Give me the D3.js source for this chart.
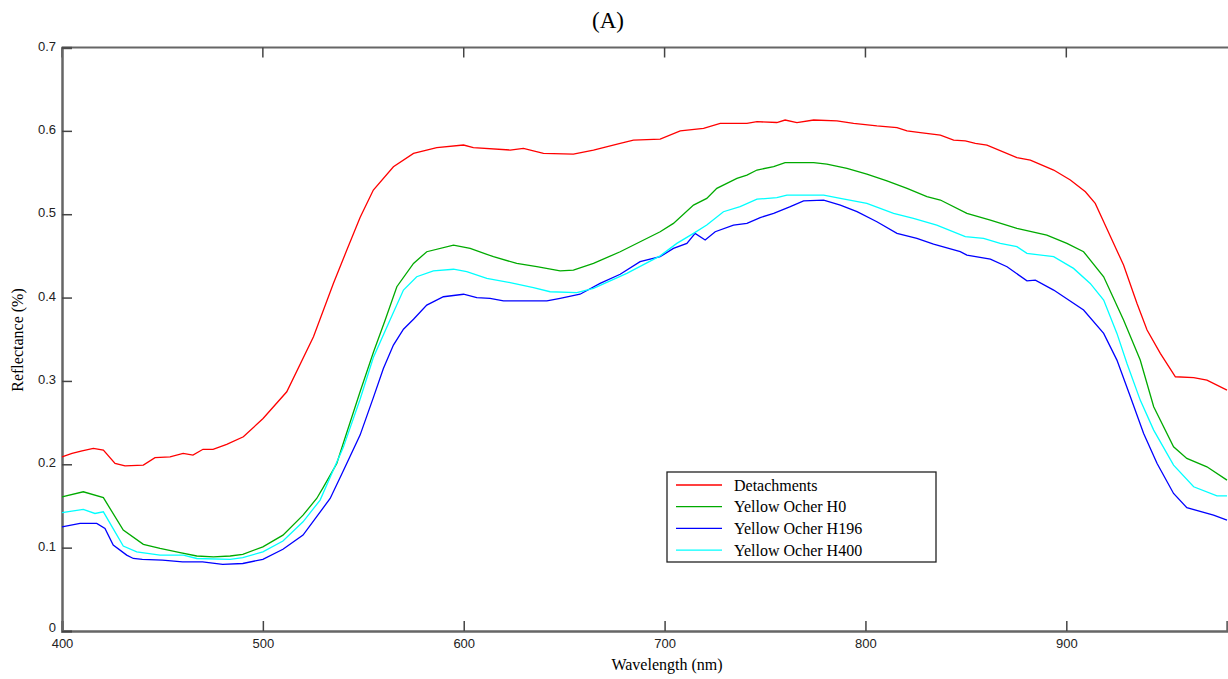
<!DOCTYPE html>
<html>
<head>
<meta charset="utf-8">
<script src="https://cdn.jsdelivr.net/npm/d3@7"></script>
<style>
  body { margin: 0; background: #fff; }
  svg { display: block; }
  .tick text { font-family: "Liberation Sans", Arial, sans-serif; font-size: 13px; fill: #222; }
  .serif { font-family: "Liberation Serif", "Times New Roman", serif; fill: #000; }
</style>
</head>
<body>
<div id="chart"></div>
<script>
// [wavelength nm, reflectance]
const detachments = [
    [400, 0.209], [405, 0.213], [410, 0.216], [415.6, 0.219], [420.6, 0.217], [426.4, 0.201],
    [431.4, 0.198], [440.5, 0.199], [446.3, 0.208], [453.8, 0.209], [460.3, 0.213], [465.2, 0.211],
    [470.2, 0.218], [475.2, 0.218], [482, 0.224], [490.3, 0.233], [500.1, 0.255], [511.9, 0.287],
    [525.2, 0.353], [535.1, 0.417], [541.8, 0.457], [548.4, 0.496], [555, 0.529], [565, 0.557],
    [575, 0.573], [586.6, 0.580], [599.9, 0.583], [604.8, 0.580], [623.1, 0.577], [629.7, 0.579],
    [639.7, 0.573], [654.6, 0.572], [664.6, 0.577], [677.9, 0.585], [684.5, 0.589], [697.8, 0.590],
    [707.8, 0.600], [719.4, 0.603], [727.7, 0.609], [741, 0.609], [746, 0.611], [755.9, 0.610],
    [760, 0.613], [765.9, 0.610], [774.2, 0.613], [785.8, 0.612], [794.1, 0.609], [805.7, 0.606],
    [815.7, 0.604], [820.7, 0.600], [827.3, 0.598], [837.3, 0.595], [843.9, 0.589], [849.7, 0.588],
    [854.7, 0.585], [860.5, 0.583], [875.4, 0.568], [882.1, 0.565], [893.7, 0.553], [902, 0.541],
    [909.5, 0.527], [914.4, 0.513], [918.6, 0.491], [928.5, 0.439], [935.2, 0.393], [940.2, 0.361],
    [946.8, 0.333], [954.3, 0.305], [963.4, 0.304], [970, 0.301], [980, 0.289]
];

const ocherH0 = [
    [400, 0.161], [410.6, 0.167], [420.6, 0.160], [430.5, 0.121], [440.5, 0.104], [448.8, 0.099],
    [458.8, 0.094], [467.1, 0.090], [475.4, 0.089], [483.7, 0.090], [490, 0.092], [500, 0.101],
    [510, 0.115], [520, 0.139], [526.8, 0.159], [530, 0.172], [536.8, 0.201], [540, 0.225],
    [548.4, 0.287], [555, 0.334], [560.9, 0.373], [566.7, 0.413], [575, 0.441], [581.6, 0.455],
    [594.9, 0.463], [603.2, 0.459], [614.8, 0.449], [626.4, 0.441], [636.4, 0.437], [648, 0.432],
    [654.6, 0.433], [664.6, 0.441], [677.9, 0.455], [697.8, 0.479], [704.4, 0.489], [714.4, 0.511],
    [721, 0.519], [726, 0.531], [736, 0.543], [741, 0.547], [746, 0.553], [754.3, 0.557],
    [760, 0.562], [767.5, 0.562], [774.2, 0.562], [780.8, 0.560], [790.8, 0.555], [800.7, 0.548],
    [810.7, 0.540], [820.7, 0.531], [830.6, 0.521], [837.3, 0.517], [850.5, 0.501], [862.2, 0.493],
    [875.4, 0.483], [890.3, 0.475], [900.3, 0.465], [908.6, 0.455], [918.6, 0.425], [928.5, 0.373],
    [936.8, 0.325], [943.5, 0.269], [953.4, 0.221], [960, 0.207], [970, 0.197], [980, 0.181]
];

const ocherH196 = [
    [400, 0.125], [409, 0.129], [417.3, 0.129], [421.4, 0.123], [425.5, 0.103], [432.2, 0.091],
    [435.5, 0.087], [440, 0.086], [450, 0.085], [460, 0.083], [470, 0.083], [480, 0.080],
    [490, 0.081], [500, 0.086], [510, 0.098], [520, 0.115], [533.5, 0.159], [540, 0.192],
    [548.4, 0.235], [555, 0.280], [560, 0.315], [565, 0.343], [570, 0.362], [575, 0.374],
    [581.6, 0.391], [589.9, 0.401], [599.9, 0.404], [606.5, 0.400], [613.1, 0.399], [619.8, 0.396],
    [641.4, 0.396], [648, 0.399], [657.9, 0.404], [667.9, 0.417], [677.9, 0.428], [687.8, 0.443],
    [697.8, 0.449], [704.4, 0.459], [711.1, 0.465], [715.2, 0.477], [720.2, 0.469], [725.2, 0.479],
    [734.3, 0.487], [741, 0.489], [747.6, 0.496], [754.3, 0.501], [762.6, 0.509], [769.2, 0.516],
    [779.2, 0.517], [787.5, 0.511], [795.8, 0.503], [805.7, 0.491], [815.7, 0.477], [825.6, 0.471],
    [833.9, 0.464], [847.2, 0.455], [850.5, 0.451], [862.2, 0.446], [870.5, 0.437], [880.4, 0.420],
    [884.6, 0.421], [893.7, 0.409], [908.6, 0.385], [918.6, 0.357], [925.2, 0.325], [931.9, 0.281],
    [938.5, 0.237], [945.2, 0.201], [953.4, 0.165], [960, 0.148], [973.3, 0.139], [980, 0.133]
];

const ocherH400 = [
    [400, 0.142], [410.6, 0.146], [416.4, 0.141], [420.6, 0.143], [430.5, 0.102], [437.2, 0.095],
    [448.8, 0.091], [460.4, 0.091], [467.1, 0.087], [483.7, 0.086], [490, 0.088], [500, 0.095],
    [510, 0.108], [520, 0.131], [528.5, 0.157], [540, 0.220], [548.4, 0.278], [555, 0.328],
    [563.3, 0.373], [570, 0.409], [576.6, 0.425], [584.9, 0.432], [594.9, 0.434], [601.5, 0.431],
    [611.5, 0.423], [623.1, 0.418], [634.7, 0.412], [643, 0.407], [656.3, 0.406], [664.6, 0.411],
    [681.2, 0.429], [697.8, 0.450], [706.1, 0.465], [714.4, 0.477], [721, 0.487], [729.3, 0.503],
    [737.6, 0.509], [746, 0.518], [755.9, 0.520], [760.9, 0.523], [769.2, 0.523], [779.2, 0.523],
    [787.5, 0.519], [800.7, 0.513], [814, 0.501], [823.9, 0.495], [835.5, 0.487], [849.7, 0.473],
    [858.8, 0.471], [867.1, 0.465], [875.4, 0.461], [880.4, 0.453], [893.7, 0.449], [903.6, 0.435],
    [911.9, 0.417], [918.6, 0.397], [925.2, 0.357], [930.2, 0.321], [936.8, 0.277], [943.5, 0.241],
    [953.4, 0.199], [963.4, 0.173], [975, 0.162], [980, 0.162]
];

const seriesNames = ['Detachments', 'Yellow Ocher H0', 'Yellow Ocher H196', 'Yellow Ocher H400'];
const seriesData = [detachments, ocherH0, ocherH196, ocherH400];
const seriesColors = ['#ff0000', '#00aa00', '#0000ff', '#00ffff'];

const xTicks = [400, 500, 600, 700, 800, 900];
const yTicks = [0, 0.1, 0.2, 0.3, 0.4, 0.5, 0.6, 0.7];

function createChart() {
    const width = 1228;
    const height = 679;
    const margin = { top: 47.5, right: 1, bottom: 48, left: 62 };

    const svg = d3.select('#chart')
        .append('svg')
        .attr('width', width)
        .attr('height', height);

    const xScale = d3.scaleLinear()
        .domain([400, 980])
        .range([margin.left, width - margin.right]);

    const yScale = d3.scaleLinear()
        .domain([0, 0.7])
        .range([height - margin.bottom, margin.top]);

    // box: top line and left / bottom axes
    svg.append('line')
        .attr('x1', margin.left).attr('x2', width)
        .attr('y1', margin.top).attr('y2', margin.top)
        .attr('stroke', '#666').attr('stroke-width', 2);

    // top mirrored ticks
    svg.append('g')
        .selectAll('line')
        .data(xTicks)
        .join('line')
        .attr('x1', (d) => xScale(d)).attr('x2', (d) => xScale(d))
        .attr('y1', margin.top).attr('y2', margin.top + 10)
        .attr('stroke', '#444').attr('stroke-width', 1.5);

    const xAxis = d3.axisBottom(xScale)
        .tickValues(xTicks)
        .tickSize(-10)
        .tickPadding(8)
        .tickFormat(d3.format('d'));

    const yAxis = d3.axisLeft(yScale)
        .tickValues(yTicks)
        .tickSize(-10)
        .tickPadding(6)
        .tickFormat((d) => d === 0 ? '0' : d.toFixed(1));

    const gx = svg.append('g')
        .attr('transform', `translate(0, ${yScale(0)})`)
        .call(xAxis);
    gx.select('.domain').attr('stroke', '#666').attr('stroke-width', 2.5);
    gx.selectAll('.tick line').attr('stroke', '#444').attr('stroke-width', 1.5);

    const gy = svg.append('g')
        .attr('transform', `translate(${margin.left}, 0)`)
        .call(yAxis);
    gy.select('.domain').attr('stroke', '#666').attr('stroke-width', 2.5);
    gy.selectAll('.tick line').attr('stroke', '#444').attr('stroke-width', 1.5);
    gy.selectAll('.tick text').attr('x', -6).attr('dy', '0.2em');
    gy.selectAll('.tick').filter((d) => d === 0).select('text').attr('dy', '0.05em');

    // lines
    const line = d3.line()
        .x((d) => xScale(d[0]))
        .y((d) => yScale(d[1]));

    svg.append('g')
        .selectAll('path')
        .data(seriesData)
        .join('path')
        .attr('d', line)
        .attr('fill', 'none')
        .attr('stroke', (d, i) => seriesColors[i])
        .attr('stroke-width', 1.3);

    // titles
    svg.append('text')
        .attr('class', 'serif')
        .attr('x', 608).attr('y', 28)
        .attr('text-anchor', 'middle')
        .style('font-size', '23px')
        .text('(A)');

    svg.append('text')
        .attr('class', 'serif')
        .attr('x', 667).attr('y', 670)
        .attr('text-anchor', 'middle')
        .style('font-size', '16px')
        .text('Wavelength  (nm)');

    svg.append('text')
        .attr('class', 'serif')
        .attr('transform', 'translate(23, 340) rotate(-90)')
        .attr('text-anchor', 'middle')
        .style('font-size', '16px')
        .text('Reflectance  (%)');

    // legend
    const legend = svg.append('g').attr('transform', 'translate(667, 472)');
    legend.append('rect')
        .attr('x', 0).attr('y', 0)
        .attr('width', 269).attr('height', 90)
        .attr('fill', '#fff')
        .attr('stroke', '#222')
        .attr('stroke-width', 1.3);

    const items = legend.selectAll('g.item')
        .data(seriesNames)
        .join('g')
        .attr('class', 'item')
        .attr('transform', (d, i) => `translate(0, ${13 + i * 21.7})`);

    items.append('line')
        .attr('x1', 9).attr('x2', 55)
        .attr('y1', 0).attr('y2', 0)
        .attr('stroke', (d, i) => seriesColors[i])
        .attr('stroke-width', 1.3);

    items.append('text')
        .attr('class', 'serif')
        .attr('x', 67).attr('y', 5.5)
        .style('font-size', '16px')
        .text((d) => d);
}

createChart();
</script>
</body>
</html>
